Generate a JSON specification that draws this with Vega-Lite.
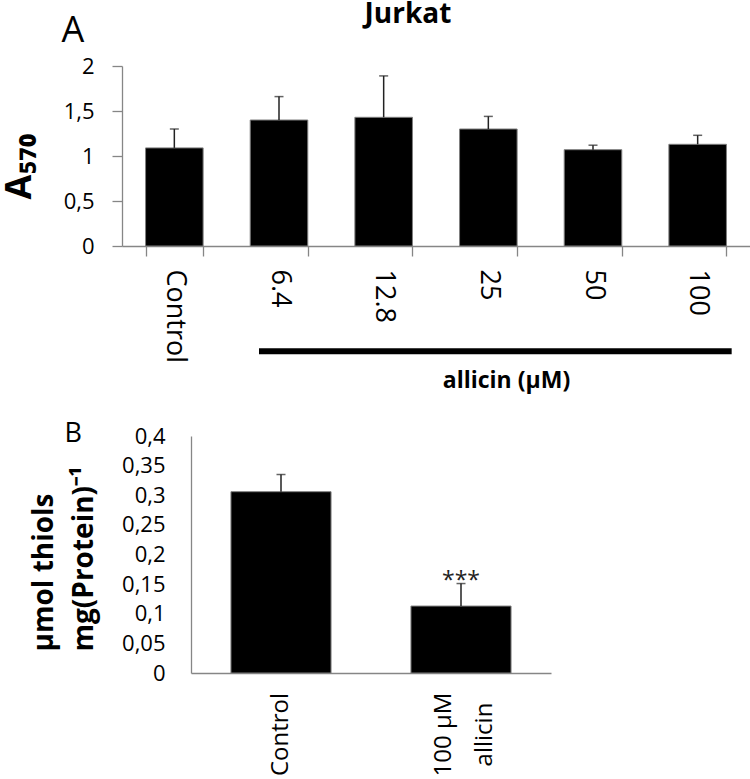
{
  "$schema": "https://vega.github.io/schema/vega-lite/v6.json",
  "padding": {"left": 0, "top": 1, "right": 0, "bottom": 0},
  "background": "white",
  "spacing": 27,
  "config": {
    "view": {"stroke": null},
    "font": "Open Sans",
    "axis": {"grid": false, "domainColor": "#868686", "tickColor": "#868686", "labelColor": "#000000", "titleColor": "#000000", "domainWidth": 1.3, "tickWidth": 1.3}
  },
  "vconcat": [
    {
      "width": 628,
      "height": 180,
      "title": {"text": "Jurkat", "fontSize": 28, "fontWeight": "bold", "anchor": "middle", "dx": -28, "baseline": "alphabetic", "offset": -39, "color": "#000000"},
      "data": {"values": [
        {"conc": "Control", "mean": 1.09, "upper": 1.30},
        {"conc": "6.4", "mean": 1.40, "upper": 1.66},
        {"conc": "12.8", "mean": 1.43, "upper": 1.89},
        {"conc": "25", "mean": 1.30, "upper": 1.44},
        {"conc": "50", "mean": 1.07, "upper": 1.12},
        {"conc": "100", "mean": 1.13, "upper": 1.23}
      ]},
      "layer": [
        {
          "mark": {"type": "bar", "color": "#000000", "stroke": "#7f7f7f", "strokeWidth": 1},
          "encoding": {
            "x": {"field": "conc", "type": "nominal", "sort": null,
              "scale": {"domain": ["Control", "6.4", "12.8", "25", "50", "100"], "paddingInner": 0.45, "paddingOuter": 0.225},
              "axis": {"title": "allicin (μM)", "titleFontSize": 23, "titleFontWeight": "bold", "titleX": 384, "titleY": 141, "titleAlign": "center", "titleBaseline": "alphabetic",
                "labelAngle": 90, "labelFontSize": 27, "labelPadding": 13, "tickSize": 10, "tickBand": "extent"}},
            "y": {"field": "mean", "type": "quantitative", "scale": {"domain": [0, 2]},
              "axis": {"title": "A₅₇₀", "titleFontSize": 36, "titleFontWeight": "bold", "titleAngle": -90, "titleX": -92, "titleY": 100, "titleAlign": "center", "titleBaseline": "alphabetic",
                "values": [0, 0.5, 1, 1.5, 2], "labelExpr": "replace(toString(datum.value), '.', ',')", "labelFontSize": 22, "labelPadding": 18, "tickSize": 10}}
          }
        },
        {
          "mark": {"type": "rule", "color": "#222222", "strokeWidth": 1.5},
          "encoding": {
            "x": {"field": "conc", "type": "nominal", "axis": null},
            "y": {"field": "mean", "type": "quantitative", "axis": null},
            "y2": {"field": "upper"}
          }
        },
        {
          "mark": {"type": "tick", "color": "#222222", "size": 9, "thickness": 1.5},
          "encoding": {
            "x": {"field": "conc", "type": "nominal", "axis": null},
            "y": {"field": "upper", "type": "quantitative", "axis": null}
          }
        },
        {
          "data": {"values": [{"from": "6.4", "to": "100"}]},
          "mark": {"type": "rule", "color": "#000000", "strokeWidth": 6, "xOffset": -20, "x2Offset": 34},
          "encoding": {
            "x": {"field": "from", "type": "nominal",
              "axis": {"orient": "top", "title": "A", "titleFontSize": 36, "titleFontWeight": "normal", "titleX": -61, "titleY": -25, "titleAlign": "left", "titleBaseline": "alphabetic", "labels": false, "ticks": false, "domain": false}},
            "x2": {"field": "to"},
            "y": {"datum": -1.17, "axis": null}
          }
        }
      ],
      "resolve": {"axis": {"x": "independent", "y": "independent"}}
    },
    {
      "width": 429,
      "height": 237,
      "data": {"values": [
        {"group": "Control", "mean": 0.306, "upper": 0.335, "sig": ""},
        {"group": "100 μM allicin", "mean": 0.113, "upper": 0.151, "sig": "***"}
      ]},
      "layer": [
        {
          "mark": {"type": "bar", "color": "#000000", "stroke": "#7f7f7f", "strokeWidth": 1},
          "encoding": {
            "x": {"field": "group", "type": "nominal", "sort": null,
              "scale": {"domain": ["Control", "100 μM allicin"], "range": [69, 429], "paddingInner": 0.444, "paddingOuter": 0.222},
              "axis": {"title": null, "labelAngle": -90, "labelAlign": "center", "labelBaseline": "middle", "labelPadding": 61, "labelFontSize": 24, "labelLineHeight": 41,
                "labelOffset": {"condition": {"test": "datum.value == '100 μM allicin'", "value": -17}, "value": 0},
                "ticks": false, "tickSize": 0, "labelExpr": "datum.value == '100 μM allicin' ? ['100 μM', 'allicin'] : datum.label"}},
            "y": {"field": "mean", "type": "quantitative", "scale": {"domain": [0, 0.4]},
              "axis": {"offset": -69, "values": [0, 0.05, 0.1, 0.15, 0.2, 0.25, 0.3, 0.35, 0.4], "ticks": false, "tickSize": 0, "labelPadding": 26, "labelFontSize": 22,
                "labelExpr": "replace(toString(datum.value), '.', ',')",
                "title": ["μmol thiols", "mg(Protein)⁻¹"], "titleFontSize": 28, "titleFontWeight": "bold", "titleAngle": -90, "titleAlign": "left", "titleBaseline": "alphabetic",
                "titleX": -139, "titleY": 215, "titleLineHeight": 40}}
          }
        },
        {
          "mark": {"type": "rule", "color": "#222222", "strokeWidth": 1.5},
          "encoding": {
            "x": {"field": "group", "type": "nominal", "axis": null},
            "y": {"field": "mean", "type": "quantitative", "axis": null},
            "y2": {"field": "upper"}
          }
        },
        {
          "mark": {"type": "tick", "color": "#222222", "size": 9, "thickness": 1.5},
          "encoding": {
            "x": {"field": "group", "type": "nominal",
              "axis": {"orient": "top", "title": "B", "titleFontSize": 27, "titleFontWeight": "normal", "titleX": -58, "titleY": 5, "titleAlign": "left", "titleBaseline": "alphabetic", "labels": false, "ticks": false, "domain": false}},
            "y": {"field": "upper", "type": "quantitative", "axis": null}
          }
        },
        {
          "mark": {"type": "text", "fontSize": 23, "baseline": "alphabetic", "dy": 4, "color": "#222222"},
          "encoding": {
            "x": {"field": "group", "type": "nominal", "axis": null},
            "y": {"field": "upper", "type": "quantitative", "axis": null},
            "text": {"field": "sig"}
          }
        }
      ],
      "resolve": {"axis": {"x": "independent", "y": "independent"}}
    }
  ]
}
